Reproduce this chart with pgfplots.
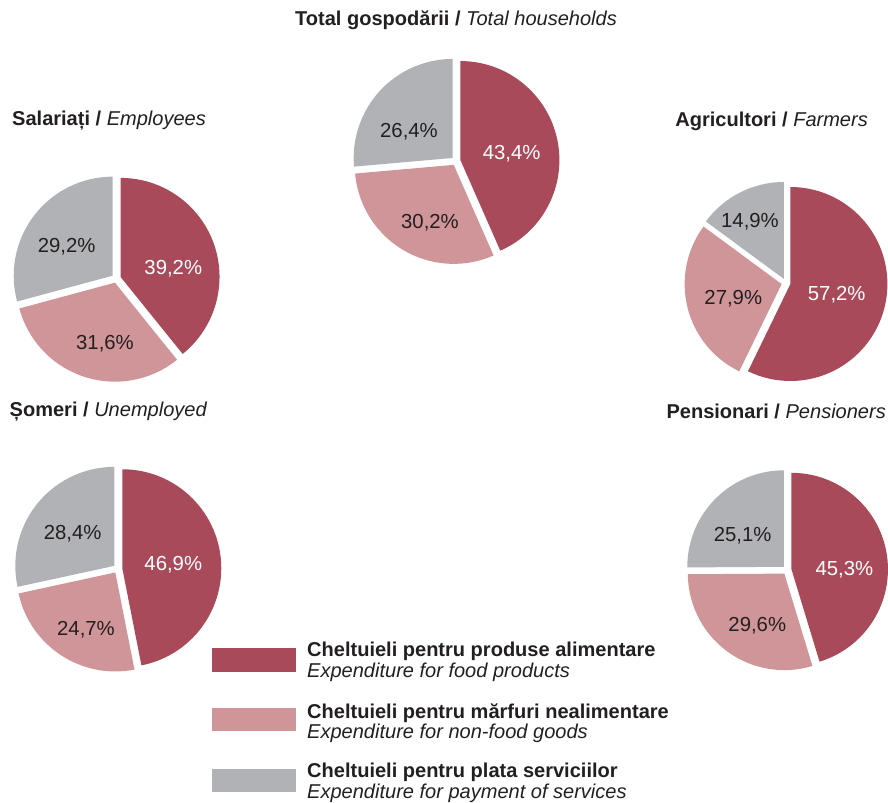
\documentclass[border=0pt]{standalone}
\usepackage{pgfplots}
\pgfplotsset{compat=1.18}
\usepackage{fontspec}
\setmainfont{Liberation Sans}
\definecolor{food}{HTML}{A84A5A}
\definecolor{nonfood}{HTML}{D09598}
\definecolor{serv}{HTML}{B1B2B6}
\definecolor{txt}{HTML}{231F20}
\pgfkeys{/pgf/number format/.cd, fixed, fixed zerofill, precision=1, use comma, assume math mode=true}
\tikzset{lab/.style={font=\fontsize{20.4}{24}\selectfont, inner sep=0pt},
         ttl/.style={font=\fontsize{20.1}{23}\selectfont, text=txt, inner sep=0pt},
         leg/.style={font=\fontsize{20.1}{20.5}\selectfont, text=txt, inner sep=0pt, align=left, anchor=west}}
\newcommand\ex{4.5}
% cx, cy(math), r, start, end, colour, value, label x (img), label y (img)
\newcommand{\slice}[9]{%
  \pgfmathsetmacro{\md}{(#4+#5)/2}%
  \pgfmathsetmacro{\ox}{#1+\ex*cos(\md)}%
  \pgfmathsetmacro{\oy}{#2+\ex*sin(\md)}%
  \pgfmathsetmacro{\lyy}{803-#9}%
  \edef\tmp{\noexpand\fill[#6] (axis cs:\ox,\oy) -- ([shift={(#4:#3bp)}]axis cs:\ox,\oy) arc[start angle=#4, end angle=#5, radius=#3bp] -- cycle;
    \noexpand\node[lab, text=\slicetxt] at (axis cs:#8,\lyy) {\noexpand\pgfmathprintnumber{#7}\noexpand\%};}%
  \tmp}
\newcommand\setlabels[6]{\def\lxA{#1}\def\lyA{#2}\def\lxB{#3}\def\lyB{#4}\def\lxC{#5}\def\lyC{#6}}
% cx, cy (img), r, food, nonfood, services
\newcommand\pie[6]{%
  \pgfmathsetmacro\cyy{803-#2}%
  \pgfmathsetmacro\aB{90-3.6*#4}%
  \pgfmathsetmacro\aC{90-3.6*(#4+#5)}%
  \def\slicetxt{white}\slice{#1}{\cyy}{#3}{90}{\aB}{food}{#4}{\lxA}{\lyA}%
  \def\slicetxt{txt}\slice{#1}{\cyy}{#3}{\aB}{\aC}{nonfood}{#5}{\lxB}{\lyB}%
  \slice{#1}{\cyy}{#3}{\aC}{-270}{serv}{#6}{\lxC}{\lyC}%
}
\begin{document}
\begin{tikzpicture}
\begin{axis}[width=888bp, height=803bp, scale only axis, xmin=0, xmax=888, ymin=0, ymax=803,
  hide axis, clip=false]
\addplot[draw=none, forget plot] coordinates {(0,0) (888,803)};
% Total households
\setlabels{511.7}{153.3}{430}{222.7}{409}{131.7}
\pie{456}{161}{99}{43.4}{30.2}{26.4}
% Employees
\setlabels{173.3}{269}{105}{343.3}{66.7}{246.7}
\pie{116.3}{278.4}{99}{39.2}{31.6}{29.2}
% Farmers
\setlabels{836.7}{295}{733.3}{298.3}{750}{221.7}
\pie{786}{283}{97}{57.2}{27.9}{14.9}
% Unemployed
\setlabels{173.3}{565}{86}{630}{72.7}{533.3}
\pie{117.8}{568.7}{99}{46.9}{24.7}{28.4}
% Pensioners
\setlabels{844.3}{570}{757.3}{625.7}{742.7}{536}
\pie{787}{570}{96.5}{45.3}{29.6}{25.1}
% titles
\node[ttl, anchor=center] at (axis cs:456,783) {\textbf{Total gospodării /} \textit{Total households}};
\node[ttl, anchor=west] at (axis cs:12,682) {\textbf{Salariați /} \textit{Employees}};
\node[ttl, anchor=east] at (axis cs:868,682) {\textbf{Agricultori /} \textit{Farmers}};
\node[ttl, anchor=west] at (axis cs:9.5,391.5) {\textbf{Șomeri /} \textit{Unemployed}};
\node[ttl, anchor=east] at (axis cs:886,391.5) {\textbf{Pensionari /} \textit{Pensioners}};
% legend
\fill[food] (axis cs:212,155) rectangle (axis cs:296,131);
\fill[nonfood] (axis cs:212,95) rectangle (axis cs:296,72);
\fill[serv] (axis cs:212,34) rectangle (axis cs:296,11);
\node[leg] at (axis cs:307,141) {\textbf{Cheltuieli pentru produse alimentare}\\\textit{Expenditure for food products}};
\node[leg] at (axis cs:307,80) {\textbf{Cheltuieli pentru mărfuri nealimentare}\\\textit{Expenditure for non-food goods}};
\node[leg] at (axis cs:307,20) {\textbf{Cheltuieli pentru plata serviciilor}\\\textit{Expenditure for payment of services}};
\end{axis}
\end{tikzpicture}
\end{document}
